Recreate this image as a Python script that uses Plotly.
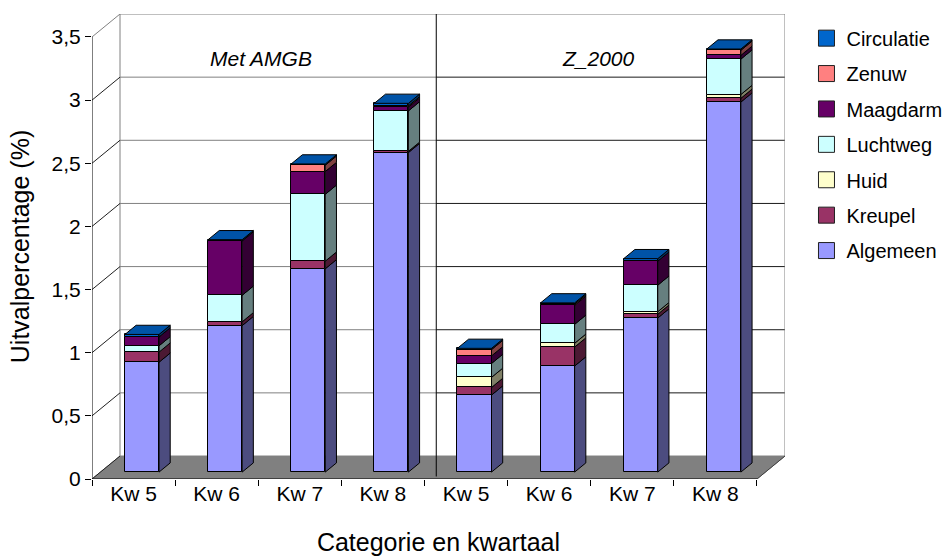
import plotly.graph_objects as go

# --- data -------------------------------------------------------------
categories = ["Kw 5", "Kw 6", "Kw 7", "Kw 8", "Kw 5", "Kw 6", "Kw 7", "Kw 8"]
group_names = ["Met AMGB", "Z_2000"]

series_names = ["Algemeen", "Kreupel", "Huid", "Luchtweg", "Maagdarm", "Zenuw", "Circulatie"]
algemeen = [0.87, 1.16, 1.61, 2.53, 0.61, 0.84, 1.22, 2.93]
kreupel = [0.08, 0.03, 0.06, 0.01, 0.06, 0.15, 0.03, 0.03]
huid = [0.00, 0.00, 0.00, 0.00, 0.08, 0.03, 0.02, 0.03]
luchtweg = [0.05, 0.21, 0.53, 0.32, 0.11, 0.15, 0.21, 0.28]
maagdarm = [0.07, 0.43, 0.18, 0.03, 0.06, 0.15, 0.19, 0.03]
zenuw = [0.00, 0.00, 0.05, 0.01, 0.05, 0.01, 0.00, 0.04]
circulatie = [0.02, 0.01, 0.01, 0.02, 0.01, 0.01, 0.02, 0.01]

series_values = [algemeen, kreupel, huid, luchtweg, maagdarm, zenuw, circulatie]
series_colors = ["#9999FF", "#993366", "#FFFFCC", "#CCFFFF", "#660066", "#FF8080", "#0066CC"]

y_tickvals = [0, 0.5, 1, 1.5, 2, 2.5, 3, 3.5]
y_ticktext = ["0", "0,5", "1", "1,5", "2", "2,5", "3", "3,5"]

# --- pseudo-3D geometry (in axis units) ---------------------------------
DEPTH_X = 0.337      # floor depth along the category axis
DEPTH_Y = 0.182      # floor depth along the value axis
BAR_FRONT = 0.3      # bar front face position within the floor depth
BAR_DEPTH = 0.4      # bar depth as fraction of the floor depth
BAR_WIDTH = 0.41
Y_MAX = 3.5
n = len(categories)
x_lo, x_hi = -0.5, n - 0.5


def shade(hexcol, f):
    h = hexcol.lstrip("#")
    r, g, b = (int(h[i:i + 2], 16) for i in (0, 2, 4))
    return "#%02X%02X%02X" % (int(r * f), int(g * f), int(b * f))


def poly(pts, fill, line="black", width=1, layer="above"):
    path = "M " + " L ".join(f"{x:.4f},{y:.4f}" for x, y in pts) + " Z"
    return dict(type="path", path=path, xref="x", yref="y", fillcolor=fill,
                line=dict(color=line, width=width), layer=layer)


def seg(x0, y0, x1, y1, color, width=1, layer="below"):
    return dict(type="line", x0=x0, y0=y0, x1=x1, y1=y1, xref="x", yref="y",
                line=dict(color=color, width=width), layer=layer)


shapes = []
bx0, by0 = x_lo + DEPTH_X, DEPTH_Y          # back wall, lower-left
bx1, by1 = x_hi + DEPTH_X, Y_MAX + DEPTH_Y  # back wall, upper-right
div_x = (n / 2 - 0.5) + 0.42 * DEPTH_X      # divider between the two groups

# back-wall gridlines (grey in the first group, dark in the second)
for v in y_tickvals[:-1]:
    if v == 0:
        continue
    shapes.append(seg(bx0, v + DEPTH_Y, div_x, v + DEPTH_Y, "#808080"))
    shapes.append(seg(div_x, v + DEPTH_Y, bx1, v + DEPTH_Y, "#1A1A1A"))
# back-wall frame
shapes.append(seg(bx0, by0, bx0, by1, "#808080"))
shapes.append(seg(bx0, by1, bx1, by1, "#808080"))
shapes.append(seg(bx1, by0, bx1, by1, "#808080"))
# floor
shapes.append(poly([(x_lo, 0), (x_hi, 0), (bx1, by0), (bx0, by0)], "#808080",
                   line="#808080", width=1, layer="below"))
shapes.append(seg(x_hi, 0, bx1, by0, "#404040"))
shapes.append(seg(x_lo, 0, x_hi, 0, "#000000"))
# side wall: diagonals from the value axis ticks
for v in y_tickvals:
    shapes.append(seg(x_lo, v, bx0, v + DEPTH_Y, "#808080" if v == Y_MAX else "#202020"))
shapes.append(seg(x_lo, 0, x_lo, Y_MAX, "#000000"))
# group divider
shapes.append(seg(div_x, 0.02, div_x, by1, "#000000"))

# --- bars ---------------------------------------------------------------
front_dx = BAR_FRONT * DEPTH_X
front_dy = BAR_FRONT * DEPTH_Y
side_dx = BAR_DEPTH * DEPTH_X
side_dy = BAR_DEPTH * DEPTH_Y
xs = [i + front_dx for i in range(n)]

fig = go.Figure()
base = [front_dy] * n
top_color = [None] * n
for name, vals, col in zip(series_names, series_values, series_colors):
    ys = [v if v > 0 else None for v in vals]
    fig.add_trace(go.Bar(
        x=xs, y=ys, base=base, width=BAR_WIDTH, name=name,
        marker=dict(color=col, line=dict(color="black", width=1)),
        showlegend=False, hoverinfo="skip"))
    for i, v in enumerate(vals):
        if v <= 0:
            continue
        xr = xs[i] + BAR_WIDTH / 2
        b, t = base[i], base[i] + v
        shapes.append(poly([(xr, b), (xr + side_dx, b + side_dy),
                            (xr + side_dx, t + side_dy), (xr, t)], shade(col, 0.5)))
        top_color[i] = col
    base = [b + v for b, v in zip(base, vals)]

for i in range(n):
    xl = xs[i] - BAR_WIDTH / 2
    xr = xs[i] + BAR_WIDTH / 2
    t = base[i]
    shapes.append(poly([(xl, t), (xr, t), (xr + side_dx, t + side_dy),
                        (xl + side_dx, t + side_dy)], shade(top_color[i], 0.82)))

# legend entries (top to bottom)
for name, col in reversed(list(zip(series_names, series_colors))):
    fig.add_trace(go.Scatter(
        x=[None], y=[None], mode="markers", name=name, legendgroup=name,
        marker=dict(symbol="square", size=16, color=col,
                    line=dict(color="#202020", width=1))))

FONT = "Liberation Sans, Arial, sans-serif"
annotations = [
    dict(x=1.53, y=3.333, xref="x", yref="y", text="<i>" + group_names[0] + "</i>",
         showarrow=False, font=dict(size=21, family=FONT, color="black")),
    dict(x=5.59, y=3.333, xref="x", yref="y", text="<i>" + group_names[1] + "</i>",
         showarrow=False, font=dict(size=21, family=FONT, color="black")),
]

fig.update_layout(
    width=947, height=556,
    margin=dict(l=92, r=162, t=14, b=77, pad=0, autoexpand=False),
    paper_bgcolor="white", plot_bgcolor="white",
    font=dict(family=FONT, size=21, color="black"),
    barmode="overlay", bargap=0,
    shapes=shapes, annotations=annotations,
    showlegend=True,
    legend=dict(x=1.031, y=0.99, xanchor="left", yanchor="top",
                font=dict(size=20, family=FONT), tracegroupgap=6.4,
                itemsizing="trace", bgcolor="rgba(0,0,0,0)"),
    xaxis=dict(range=[x_lo, bx1], tickvals=list(range(n)), ticktext=categories,
               ticks="", showgrid=False, zeroline=False, showline=False,
               minor=dict(tickvals=[i - 0.5 for i in range(n + 1)], ticks="outside",
                          ticklen=6, tickcolor="black", tickwidth=1),
               title=dict(text="Categorie en kwartaal", standoff=29),
               tickfont=dict(size=21), fixedrange=True, automargin=False),
    yaxis=dict(range=[0, by1], tickvals=y_tickvals, ticktext=y_ticktext,
               ticks="outside", ticklen=6, tickcolor="black",
               showgrid=False, zeroline=False, showline=False,
               title=dict(text="Uitvalpercentage (%)", standoff=14),
               tickfont=dict(size=21), fixedrange=True, automargin=False),
)

fig.write_html("out.html")
